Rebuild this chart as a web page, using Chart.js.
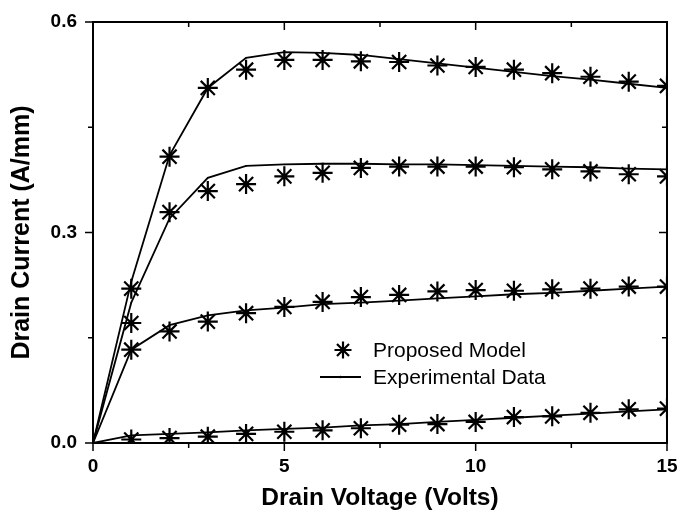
<!DOCTYPE html>
<html>
<head>
<meta charset="utf-8">
<script src="https://cdn.jsdelivr.net/npm/chart.js@4/dist/chart.umd.min.js"></script>
<style>
  html, body { margin: 0; padding: 0; background: #fff; }
  #wrap { width: 678px; height: 512px; }
</style>
</head>
<body>
<div id="wrap"><canvas id="ivChart" width="678" height="512"></canvas></div>
<script>
// drain voltage steps (V)
const voltage = [0, 1, 2, 3, 4, 5, 6, 7, 8, 9, 10, 11, 12, 13, 14, 15];
const modelVoltage = [1, 2, 3, 4, 5, 6, 7, 8, 9, 10, 11, 12, 13, 14, 15];

// measured drain current (A/mm), one array per gate bias
const expTop = [0, 0.23, 0.41, 0.506, 0.549, 0.557, 0.556, 0.553, 0.547, 0.541, 0.535, 0.529, 0.523, 0.518, 0.512, 0.506];
const expSecond = [0, 0.20, 0.32, 0.378, 0.395, 0.397, 0.398, 0.398, 0.397, 0.397, 0.396, 0.395, 0.394, 0.393, 0.391, 0.390];
const expThird = [0, 0.133, 0.168, 0.182, 0.189, 0.193, 0.198, 0.200, 0.203, 0.206, 0.209, 0.212, 0.214, 0.217, 0.220, 0.223];
const expBottom = [0, 0.011, 0.013, 0.015, 0.018, 0.020, 0.022, 0.025, 0.027, 0.030, 0.033, 0.036, 0.039, 0.042, 0.045, 0.048];

// model prediction (A/mm)
const modelTop = [0.220, 0.408, 0.506, 0.532, 0.546, 0.546, 0.544, 0.543, 0.538, 0.536, 0.532, 0.527, 0.522, 0.515, 0.509];
const modelSecond = [0.171, 0.329, 0.359, 0.369, 0.380, 0.385, 0.392, 0.394, 0.394, 0.394, 0.393, 0.390, 0.387, 0.383, 0.380];
const modelThird = [0.133, 0.159, 0.173, 0.185, 0.194, 0.201, 0.208, 0.211, 0.216, 0.218, 0.217, 0.219, 0.220, 0.223, 0.223];
const modelBottom = [0.005, 0.007, 0.009, 0.013, 0.016, 0.018, 0.021, 0.026, 0.027, 0.030, 0.037, 0.038, 0.043, 0.048, 0.049];

const xMajor = [0, 5, 10, 15];
const xMinor = [2.5, 7.5, 12.5];
const yMajor = [0, 0.3, 0.6];
const yMinor = [0.15, 0.45];

const legendLabels = ["Proposed Model", "Experimental Data"];

const FONT = "'Liberation Sans', Arial, sans-serif";

function pairs(xs, ys) {
    return ys.map((y, i) => ({ x: xs[i], y: y }));
}

function lineSet(values) {
    return {
        data: pairs(voltage, values),
        showLine: true,
        borderColor: "#000",
        backgroundColor: "#000",
        borderWidth: 1.8,
        pointRadius: 0.8,
        pointBorderWidth: 0,
        clip: 0,
    };
}

function starSet(values) {
    return {
        data: pairs(modelVoltage, values),
        showLine: false,
        pointStyle: "star",
        pointRadius: 10,
        pointBorderWidth: 2.2,
        borderColor: "#000",
        backgroundColor: "#000",
        clip: 0,
    };
}

function drawStar(ctx, x, y, r) {
    ctx.beginPath();
    for (let k = 0; k < 4; k++) {
        const a = k * Math.PI / 4;
        ctx.moveTo(x - Math.cos(a) * r, y - Math.sin(a) * r);
        ctx.lineTo(x + Math.cos(a) * r, y + Math.sin(a) * r);
    }
    ctx.stroke();
}

// keep the plot box fixed: no extra room for edge labels
function noEdgePadding(scale) {
    scale.paddingLeft = 0;
    scale.paddingRight = 0;
    scale.paddingTop = 0;
    scale.paddingBottom = 0;
}

// frame, Origin-style ticks and the inset legend
const framePlugin = {
    id: "frame",
    afterDraw(chart) {
        const ctx = chart.ctx;
        const area = chart.chartArea;
        const xs = chart.scales.x;
        const ys = chart.scales.y;
        ctx.save();
        ctx.strokeStyle = "#000";
        ctx.lineWidth = 2;
        ctx.strokeRect(area.left, area.top, area.right - area.left, area.bottom - area.top);

        ctx.lineWidth = 1.5;
        ctx.beginPath();
        const xTick = (v, len) => {
            const px = xs.getPixelForValue(v);
            ctx.moveTo(px, area.bottom);
            ctx.lineTo(px, area.bottom + len);
            ctx.moveTo(px, area.top);
            ctx.lineTo(px, area.top + len);
        };
        const yTick = (v, len) => {
            const py = ys.getPixelForValue(v);
            ctx.moveTo(area.left, py);
            ctx.lineTo(area.left - len, py);
            ctx.moveTo(area.right, py);
            ctx.lineTo(area.right - len, py);
        };
        xMajor.forEach(v => xTick(v, 8));
        xMinor.forEach(v => xTick(v, 5));
        yMajor.forEach(v => yTick(v, 8));
        yMinor.forEach(v => yTick(v, 5));
        ctx.stroke();

        // legend
        ctx.lineWidth = 2.2;
        drawStar(ctx, 343, 350, 8.5);
        ctx.lineWidth = 1.8;
        ctx.beginPath();
        ctx.moveTo(320, 377);
        ctx.lineTo(361, 377);
        ctx.stroke();
        ctx.beginPath();
        ctx.arc(340.5, 377, 1.2, 0, Math.PI * 2);
        ctx.fillStyle = "#000";
        ctx.fill();

        ctx.fillStyle = "#000";
        ctx.font = "21px " + FONT;
        ctx.textBaseline = "middle";
        ctx.textAlign = "left";
        ctx.fillText(legendLabels[0], 373, 351);
        ctx.fillText(legendLabels[1], 373, 378);
        ctx.restore();
    }
};

const whiteBg = {
    id: "whiteBg",
    beforeDraw(chart) {
        const ctx = chart.ctx;
        ctx.save();
        ctx.fillStyle = "#fff";
        ctx.fillRect(0, 0, chart.width, chart.height);
        ctx.restore();
    }
};

new Chart(document.getElementById("ivChart"), {
    type: "scatter",
    data: {
        datasets: [
            lineSet(expTop),
            lineSet(expSecond),
            lineSet(expThird),
            lineSet(expBottom),
            starSet(modelTop),
            starSet(modelSecond),
            starSet(modelThird),
            starSet(modelBottom),
        ],
    },
    options: {
        responsive: false,
        animation: false,
        layout: {
            autoPadding: false,
            padding: { left: 0, top: 22, right: 11, bottom: 0 }
        },
        plugins: {
            legend: { display: false },
            tooltip: { enabled: false },
        },
        scales: {
            x: {
                type: "linear",
                min: 0,
                max: 15,
                grid: { display: false, drawTicks: false },
                border: { display: false },
                ticks: {
                    stepSize: 5,
                    padding: 12,
                    color: "#000",
                    maxRotation: 0,
                    font: { family: FONT, size: 19, weight: "bold" },
                },
                title: {
                    display: true,
                    text: "Drain Voltage (Volts)",
                    color: "#000",
                    padding: { top: 0, bottom: 2 },
                    font: { family: FONT, size: 24.5, weight: "bold", lineHeight: 1 },
                },
                afterFit(scale) {
                    scale.height = 69;
                    noEdgePadding(scale);
                },
            },
            y: {
                min: 0,
                max: 0.6,
                grid: { display: false, drawTicks: false },
                border: { display: false },
                ticks: {
                    stepSize: 0.3,
                    padding: 16,
                    color: "#000",
                    font: { family: FONT, size: 19, weight: "bold" },
                    callback: v => v.toFixed(1),
                },
                title: {
                    display: true,
                    text: "Drain Current (A/mm)",
                    color: "#000",
                    padding: { top: 10, bottom: 0 },
                    font: { family: FONT, size: 25, weight: "bold", lineHeight: 1 },
                },
                afterFit(scale) {
                    scale.width = 93;
                    noEdgePadding(scale);
                },
            },
        },
    },
    plugins: [whiteBg, framePlugin],
});
</script>
</body>
</html>
